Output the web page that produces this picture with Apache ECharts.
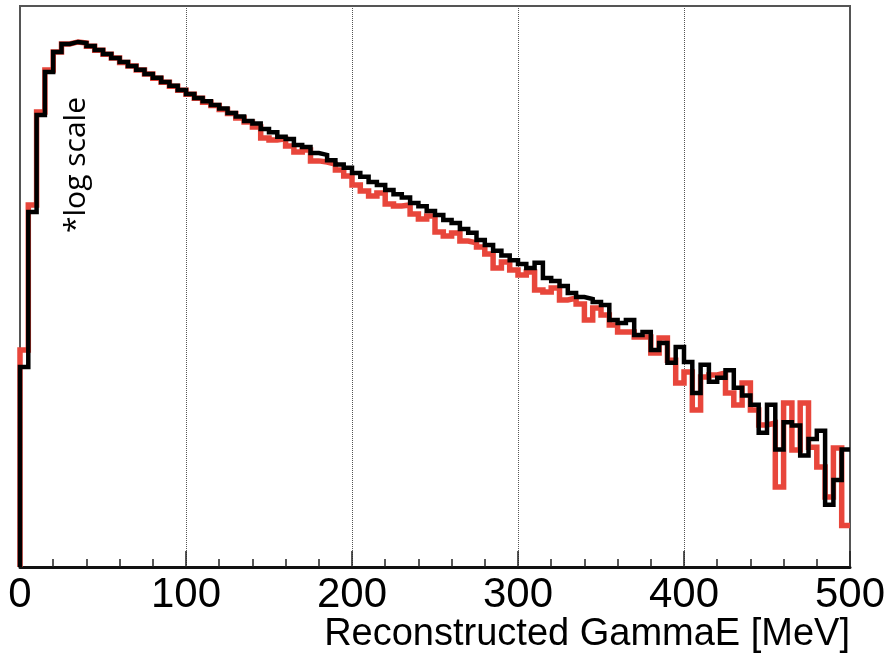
<!DOCTYPE html>
<html>
<head>
<meta charset="utf-8">
<script src="https://cdn.jsdelivr.net/npm/echarts@6/dist/echarts.min.js"></script>
<style>
  html, body { margin: 0; padding: 0; background: #fff; }
  #main { width: 890px; height: 655px; }
</style>
</head>
<body>
<div id="main"></div>
<script>
// histogram bins: 5 MeV wide, 0..500 MeV
var binWidth = 5;
var xTicks = [0, 100, 200, 300, 400, 500];
var xTitle = 'Reconstructed GammaE [MeV]';
var note = '*log scale';

// black histogram (counts per bin, log scale)
var blackCounts = [
  1000, 35500, 331000, 891000, 1410000, 1700000, 1780000, 1740000, 1620000, 1480000,
  1350000, 1230000, 1120000, 1020000, 940000, 851000, 780000, 708000, 650000, 589000,
  537000, 490000, 455000, 417000, 385000, 347000, 320000, 288000, 272000, 240000,
  222000, 200000, 190000, 166000, 158000, 138000, 132000, 117000, 106000, 98000,
  87100, 80000, 70800, 66000, 58900, 53500, 49500, 43700, 40500, 36300,
  33000, 29500, 27500, 24000, 22000, 18600, 16600, 14500, 13000, 11700,
  10700, 9770, 11000, 7760, 7240, 6460, 5500, 5010, 4790, 4470,
  4170, 2950, 2750, 2950, 2090, 2240, 1480, 1740, 1100, 1580,
  1120, 550, 1050, 710, 780, 930, 620, 520, 420, 220,
  420, 150, 280, 260, 130, 190, 230, 42, 74, 150
];

// red histogram
var redCounts = [
  1480, 41700, 355000, 933000, 1410000, 1700000, 1780000, 1740000, 1610000, 1470000,
  1340000, 1230000, 1110000, 1020000, 930000, 848000, 770000, 705000, 640000, 585000,
  535000, 487000, 443000, 412000, 376000, 343000, 309000, 282000, 251000, 195000,
  186000, 191000, 162000, 141000, 148000, 115000, 112000, 107000, 93300, 81300,
  66100, 57500, 51300, 55000, 42700, 40700, 41700, 33900, 30200, 32400,
  22400, 20400, 21900, 18200, 17400, 15800, 13500, 9770, 11200, 9330,
  8320, 8910, 5890, 5620, 6170, 4680, 4900, 4270, 2950, 3890,
  3310, 2630, 2240, 2240, 2000, 2000, 1380, 1950, 1170, 692,
  891, 372, 794, 832, 871, 550, 417, 692, 372, 263,
  275, 63, 437, 148, 437, 158, 100, 50, 155, 26
];

var yMin = 10;
var yMax = 4070000;

function histPoints(counts) {
  var pts = [[0, yMin]];
  for (var i = 0; i < counts.length; i++) {
    pts.push([i * binWidth, counts[i]]);
  }
  pts.push([counts.length * binWidth, counts[counts.length - 1]]);
  return pts;
}

var myChart = echarts.init(document.getElementById('main'));

var option = {
  animation: false,
  backgroundColor: '#fff',
  grid: {
    left: 20, right: 40, top: 6, bottom: 88,
    containLabel: false,
    outerBoundsMode: 'none',
    show: true,
    borderColor: '#555',
    borderWidth: 2
  },
  xAxis: {
    type: 'value',
    min: xTicks[0],
    max: xTicks[xTicks.length - 1],
    interval: 100,
    axisLine: { show: true, lineStyle: { color: '#111', width: 3 } },
    axisTick: { show: true, inside: true, length: 16, lineStyle: { color: '#222', width: 1.5 } },
    minorTick: { show: true, splitNumber: 5, length: 8, lineStyle: { color: '#222', width: 1.5 } },
    axisLabel: {
      margin: 7,
      showMinLabel: true,
      showMaxLabel: true,
      hideOverlap: false,
      fontFamily: 'Liberation Sans, Arial, sans-serif',
      fontSize: 42,
      color: '#000'
    },
    splitLine: { show: true, lineStyle: { color: '#555', type: 'dotted', width: 1 } }
  },
  yAxis: {
    type: 'log',
    logBase: 10,
    min: yMin,
    max: yMax,
    axisLine: { show: false },
    axisTick: { show: false },
    axisLabel: { show: false },
    splitLine: { show: false }
  },
  graphic: [{
    type: 'text',
    x: 850,
    y: 635,
    style: {
      text: xTitle,
      fontFamily: 'Liberation Sans, Arial, sans-serif',
      fontSize: 38,
      fill: '#000',
      align: 'right',
      verticalAlign: 'middle'
    }
  }, {
    type: 'text',
    x: 76,
    y: 165,
    rotation: Math.PI / 2,
    style: {
      text: note,
      fontFamily: 'Open Sans, sans-serif',
      fontSize: 30,
      fill: '#000',
      align: 'center',
      verticalAlign: 'middle'
    }
  }],
  series: [
    {
      name: 'red',
      type: 'line',
      step: 'end',
      symbol: 'none',
      data: histPoints(redCounts),
      lineStyle: { color: '#e8463b', width: 5.5, cap: 'butt', join: 'miter' },
      z: 2
    },
    {
      name: 'black',
      type: 'line',
      step: 'end',
      symbol: 'none',
      data: histPoints(blackCounts),
      lineStyle: { color: '#000', width: 4.5, cap: 'butt', join: 'miter' },
      z: 3
    }
  ]
};

myChart.setOption(option);
window.addEventListener('resize', function () {
  myChart.resize();
});
</script>
</body>
</html>
